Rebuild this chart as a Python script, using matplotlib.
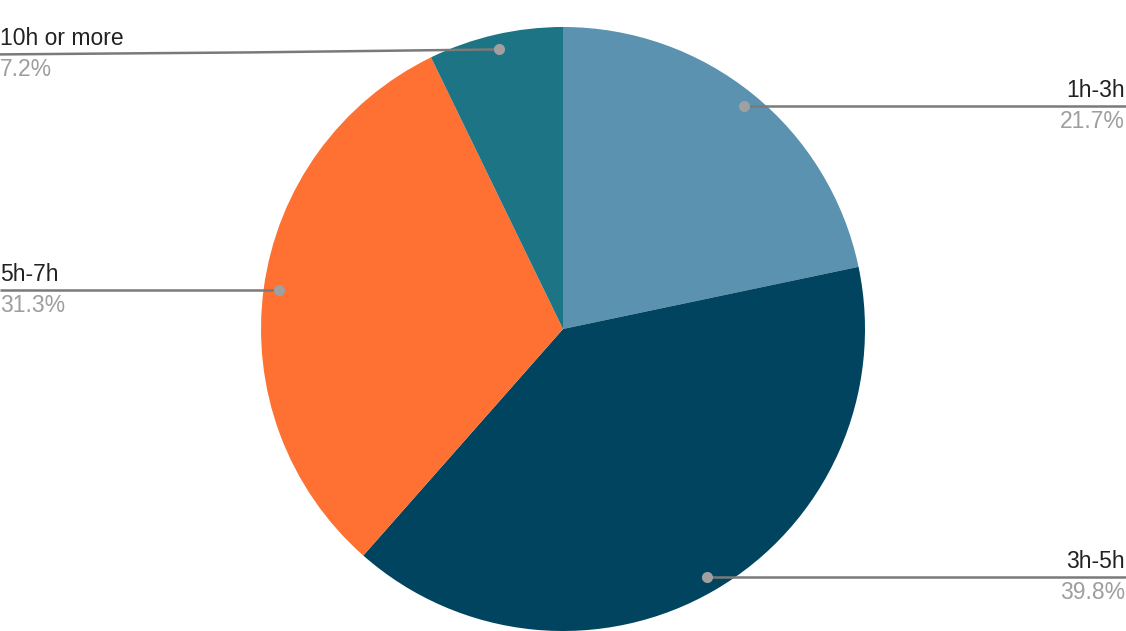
import numpy as np
import matplotlib.pyplot as plt

plt.rcParams['font.family'] = ['Liberation Sans', 'DejaVu Sans']

# slices, clockwise from 12 o'clock
labels = ["1h-3h", "3h-5h", "5h-7h", "10h or more"]
shares = [21.7, 39.8, 31.3, 7.2]
pct_text = ["21.7%", "39.8%", "31.3%", "7.2%"]
colors = ["#5a92af", "#00445f", "#ff7033", "#1d7484"]
side = ["right", "right", "left", "left"]

W, H = 1126, 631
fig = plt.figure(figsize=(W / 100, H / 100), dpi=100)
ax = fig.add_axes([0, 0, 1, 1])

cx, cy, r = 563, 302, 302
wedges, _ = ax.pie(shares, colors=colors, startangle=90, counterclock=False,
                   center=(cx, cy), radius=r, frame=True,
                   wedgeprops=dict(linewidth=0))
ax.set_xlim(0, W)
ax.set_ylim(0, H)
ax.set_aspect("equal")
ax.axis("off")

for w, lab, pct, s in zip(wedges, labels, pct_text, side):
    mid = np.deg2rad((w.theta1 + w.theta2) / 2)
    px = cx + 0.95 * r * np.cos(mid)
    py = cy + 0.95 * r * np.sin(mid)
    if s == "right":
        xs, ys = [px, W], [py, py]
        tx, ha = W - 1, "right"
        ly = py
    else:
        if lab == "10h or more":
            xs, ys = [px, 250, 0], [py, py - 3, py - 5]
            ly = py - 5
        else:
            xs, ys = [px, 0], [py, py]
            ly = py
        tx, ha = 0, "left"
    ax.plot(xs, ys, color="#7a7a7a", lw=1.8, solid_capstyle="butt", zorder=3)
    ax.plot([px], [py], "o", color="#a0a0a0", ms=7, zorder=4)
    ax.text(tx, ly + 4, lab, ha=ha, va="bottom", fontsize=16.5, color="#222222")
    ax.text(tx, ly - 4, pct, ha=ha, va="top", fontsize=16.5, color="#9e9e9e")

fig.savefig("out.png", dpi=100)
